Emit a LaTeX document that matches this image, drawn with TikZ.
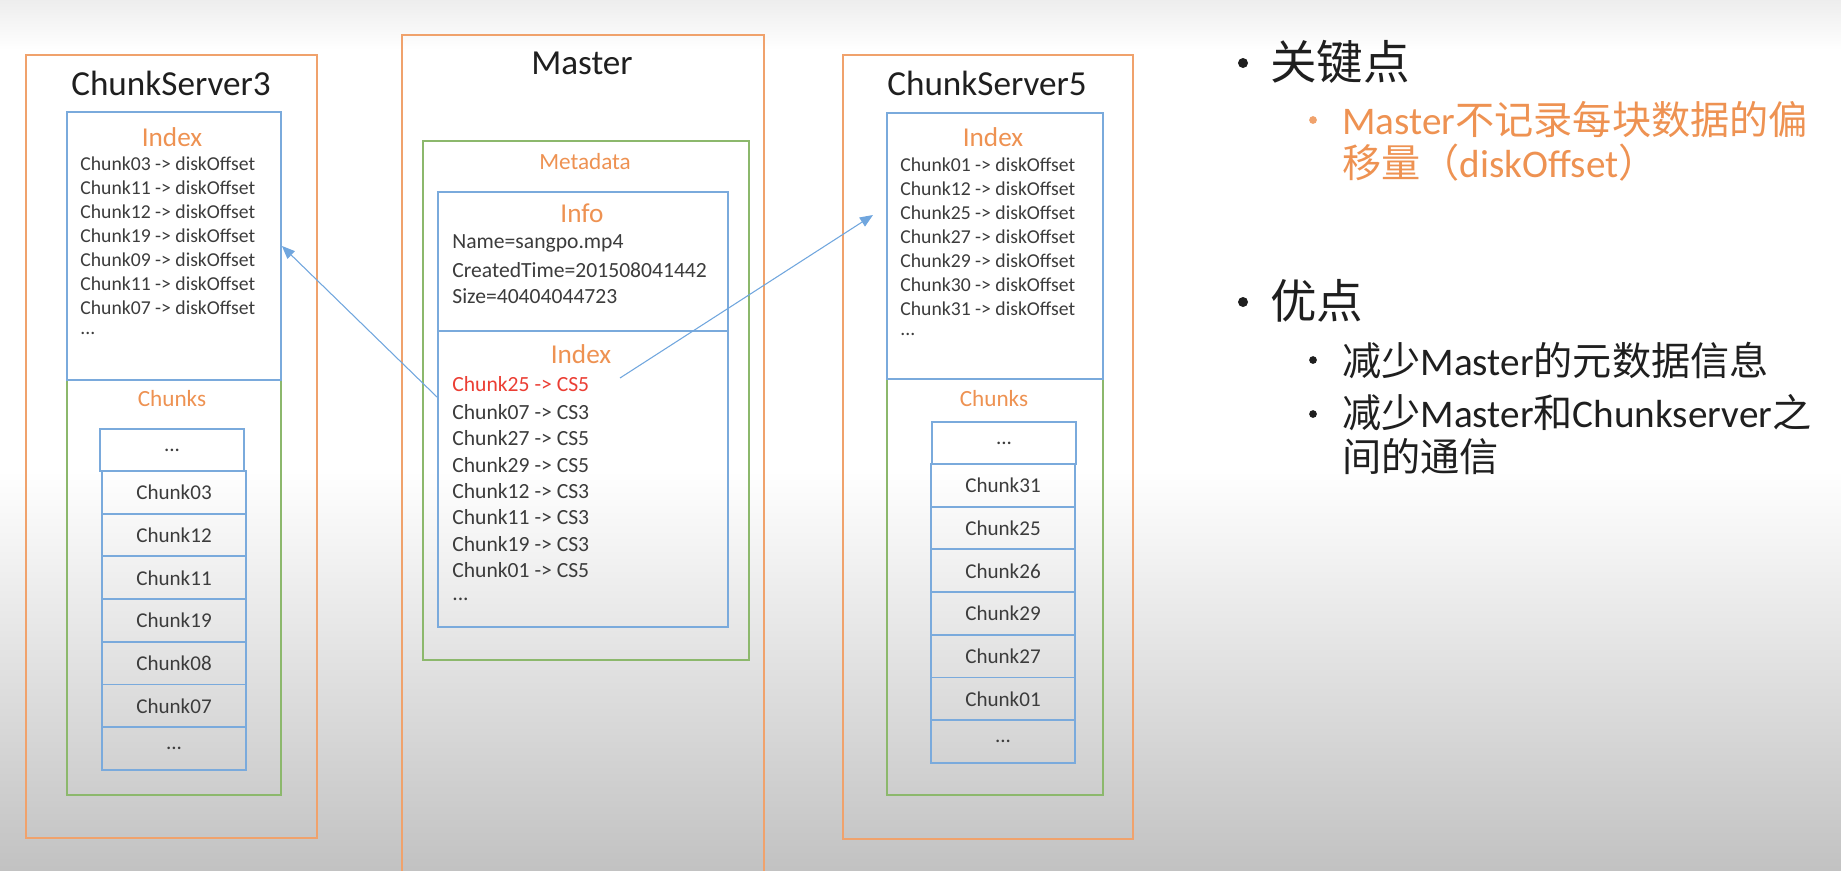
\documentclass[tikz,border=0pt]{standalone}
\usepackage{fontspec}
\setmainfont{Carlito}
\newfontfamily\cjk{Noto Sans CJK SC}
\usepackage{tikz}
\usetikzlibrary{arrows.meta,positioning}
\definecolor{gfsorange}{RGB}{240,162,108}
\definecolor{gfsgreen}{RGB}{140,184,108}
\definecolor{gfsblue}{RGB}{122,170,220}
\definecolor{gfstext}{RGB}{60,60,60}
\definecolor{gfslabel}{RGB}{238,146,82}
\definecolor{gfsred}{RGB}{235,62,52}
\definecolor{gfsarrow}{RGB}{112,166,222}

\begin{document}
\begin{tikzpicture}[
  x=0.02cm, y=-0.02cm,
  outer/.style={draw=gfsorange, line width=1.1pt, anchor=north west, inner sep=0pt},
  grpbox/.style={draw=gfsgreen, line width=1.1pt, anchor=north west, inner sep=0pt},
  idxbox/.style={draw=gfsblue, line width=1.1pt, anchor=north west, inner sep=0pt},
  title/.style={inner sep=0pt, font=\fontsize{20}{24}\selectfont, text=black!88},
  head/.style={inner sep=0pt, font=\fontsize{15.5}{18}\selectfont, text=gfslabel},
  sub/.style={inner sep=0pt, font=\fontsize{13.2}{16}\selectfont, text=gfslabel},
  entry/.style={anchor=west, inner sep=0pt, font=\fontsize{11.2}{13}\selectfont, text=gfstext},
  mentry/.style={entry, font=\fontsize{12.3}{14}\selectfont},
  cell/.style={draw=gfsblue, line width=1.1pt, minimum width=2.88cm, minimum height=0.854cm,
    inner sep=0pt, font=\fontsize{12}{14}\selectfont, text=gfstext},
  bigdot/.style={circle, fill=black!88, inner sep=0pt, minimum size=0.2cm},
  smalldot/.style={circle, fill=black!88, inner sep=0pt, minimum size=0.155cm},
  point/.style={anchor=west, inner sep=0pt, text=black!88},
  keyfont/.style={font=\cjk\fontsize{26.5}{31}\selectfont},
  itemfont/.style={font=\fontsize{22.3}{26}\selectfont},
  link/.style={-{Triangle[length=2.6mm, width=2.1mm]}, draw=gfsarrow, line width=0.6pt},
]

% ============ background ============
\useasboundingbox (0,0) rectangle (1841,870);
\fill[white] (0,0) rectangle (1841,870);
\shade[top color=black!7, bottom color=white] (0,0) rectangle (1841,50);
\shade[top color=white, bottom color=black!24] (0,470) rectangle (1841,870);

% ============ ChunkServer3 ============
\node[outer, minimum width=5.82cm, minimum height=15.66cm] (cs3) at (25,54) {};
\node[title] (cs3t) at (171,83) {ChunkServer3};
\node[grpbox, minimum width=4.28cm, minimum height=8.30cm] (cs3chk) at (66,379) {};
\node[idxbox, minimum width=4.28cm, minimum height=5.36cm] (cs3idx) at (66,111) {};
\node[head] (cs3ih) at (172,137) {Index};
\foreach \cid [count=\i from 0] in {03,11,12,19,09,11,07}
  \node[entry] (cs3e\i) at (80,164+24*\i) {Chunk\cid\ -> diskOffset};
\node[entry] (cs3dots) at (80,333) {...};
\node[sub] (cs3ch) at (172,399) {Chunks};
\node[cell] (cs3c0) at (172,450) {...};
\foreach \cid [count=\i] in {03,12,11,19,08,07}
  \node[cell] (cs3c\i) at (174,449.65+42.7*\i) {Chunk\cid};
\node[cell] (cs3c7) at (174,748.55) {...};

% ============ Master ============
\node[outer, minimum width=7.24cm, minimum height=17cm] (mst) at (401,34) {};
\node[title] (mstt) at (582,63) {Master};
\node[grpbox, minimum width=6.52cm, minimum height=10.38cm] (meta) at (422,140) {};
\node[sub] (metah) at (585,162) {Metadata};
\node[idxbox, minimum width=5.80cm, minimum height=2.78cm] (info) at (437,191) {};
\node[head] (infoh) at (582,213) {Info};
\node[mentry] (info1) at (452,243) {Name=sangpo.mp4};
\node[mentry] (info2) at (452,270) {CreatedTime=201508041442};
\node[mentry] (info3) at (452,296) {Size=40404044723};
\node[idxbox, minimum width=5.80cm, minimum height=5.92cm] (midx) at (437,330) {};
\node[head] (midxh) at (581,354) {Index};
\node[mentry, text=gfsred] (me0) at (452,384) {Chunk25 -> CS5};
\foreach \cid/\srv [count=\i] in {07/3,27/5,29/5,12/3,11/3,19/3,01/5}
  \node[mentry] (me\i) at (452,385.5+26.4*\i) {Chunk\cid\ -> CS\srv};
\node[mentry] (medots) at (452,599) {...};

% ============ ChunkServer5 ============
\node[outer, minimum width=5.80cm, minimum height=15.68cm] (cs5) at (842,54) {};
\node[title] (cs5t) at (987,83) {ChunkServer5};
\node[grpbox, minimum width=4.32cm, minimum height=8.32cm] (cs5chk) at (886,378) {};
\node[idxbox, minimum width=4.32cm, minimum height=5.32cm] (cs5idx) at (886,112) {};
\node[head] (cs5ih) at (993,137) {Index};
\foreach \cid [count=\i from 0] in {01,12,25,27,29,30,31}
  \node[entry] (cs5e\i) at (900,165+24*\i) {Chunk\cid\ -> diskOffset};
\node[entry] (cs5dots) at (900,334) {...};
\node[sub] (cs5ch) at (994,399) {Chunks};
\node[cell] (cs5c0) at (1004,443) {...};
\foreach \cid [count=\i] in {31,25,26,29,27,01}
  \node[cell] (cs5c\i) at (1003,442.65+42.7*\i) {Chunk\cid};
\node[cell] (cs5c7) at (1003,741.55) {...};

% ============ lookups ============
\coordinate (lsrc) at (437,397);
\coordinate (rsrc) at (620,378);
\coordinate (rtip) at (873,215);
\draw[link] (lsrc) -- (cs3idx.east);
\draw[link] (rsrc) -- (rtip);

% ============ key points ============
\node[bigdot] (p1) at (1243,63) {};
\node[point, keyfont] (p1t) at (1270,62) {关键点};
\node[smalldot, fill=gfsorange] (p11) at (1313,120) {};
\node[point, itemfont, text=gfslabel] (p11t) at (1342,120) {Master{\cjk 不记录每块数据的偏}};
\node[point, itemfont, text=gfslabel] (p11u) at (1342,163) {{\cjk 移量（}diskOffset{\cjk ）}};

\node[bigdot] (p2) at (1243,302) {};
\node[point, keyfont] (p2t) at (1270,301) {优点};
\node[smalldot] (p21) at (1313,360) {};
\node[point, itemfont] (p21t) at (1342,360) {{\cjk 减少}Master{\cjk 的元数据信息}};
\node[smalldot] (p22) at (1313,414) {};
\node[point, itemfont] (p22t) at (1342,413) {{\cjk 减少}Master{\cjk 和}Chunkserver{\cjk 之}};
\node[point, itemfont] (p22u) at (1342,457) {{\cjk 间的通信}};

\end{tikzpicture}
\end{document}
